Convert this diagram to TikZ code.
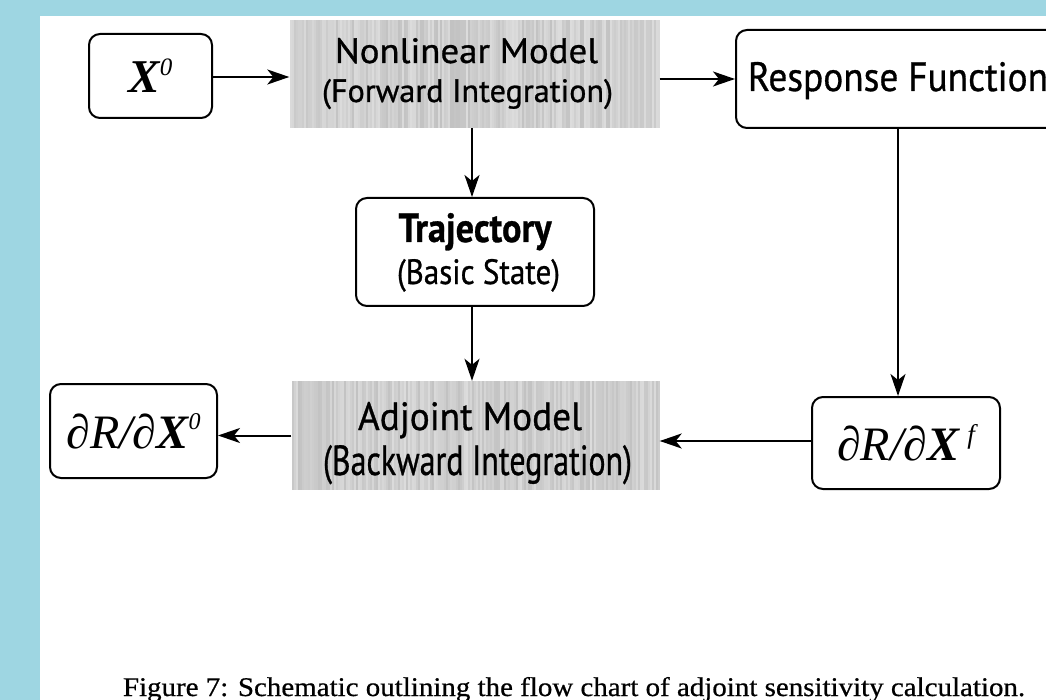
\documentclass[tikz,border=0pt]{standalone}
\usepackage{fontspec}
\usepackage{graphicx}
\usetikzlibrary{arrows.meta}
\newfontfamily\sff[FakeBold=0.8]{PT Sans}
\newfontfamily\tms{Liberation Serif}
\newfontfamily\tmscap[FakeBold=0.6]{Liberation Serif}
\definecolor{frameblue}{RGB}{158,214,226}
\definecolor{shadegray}{RGB}{205,205,205}
\newcommand\grainfill[4]{%
  \foreach \i in {#1,...,#3}{%
    \pgfmathtruncatemacro\g{random(194,220)}%
    \definecolor{grn}{RGB}{\g,\g,\g}%
    \fill[grn] ({2*\i},#2) rectangle ++(2,#4);}}
\tikzset{
  rbox/.style={draw=black, line width=2pt, rounded corners=11pt, fill=white, inner sep=0pt},
  sbox/.style={fill=shadegray, draw=none, inner sep=0pt},
  lbl/.style={anchor=base, inner sep=0pt, outer sep=0pt},
  conn/.style={line width=2pt, -{Stealth[length=22pt, width=15pt, inset=6pt]}},
}
\begin{document}
\begin{tikzpicture}[x=1pt, y=-1pt]
\pgfmathsetseed{7}
\useasboundingbox (0,0) rectangle (1046,700);
\clip (0,0) rectangle (1046,700);
\fill[frameblue] (0,0) rectangle (1046,700);
\fill[white] (40,16) rectangle (1046,700);

% boxes
\node[rbox, minimum width=123pt, minimum height=84pt] (x0) at (150.5,76)
  {\fontsize{47}{47}\selectfont\tms\bfseries\itshape X\raisebox{17pt}{\fontsize{25}{25}\selectfont\mdseries 0}};
\node[sbox, minimum width=370pt, minimum height=108pt] (nl) at (474.5,74) {};
\node[rbox, minimum width=324pt, minimum height=98pt] (rf) at (898,79) {};
\node[rbox, minimum width=238pt, minimum height=108pt] (traj) at (475,252) {};
\node[sbox, minimum width=368pt, minimum height=109pt] (adj) at (475.5,435.5) {};
\node[rbox, minimum width=167pt, minimum height=94pt] (drx0) at (133.5,431)
  {\fontsize{48}{48}\selectfont\tms\itshape ∂R/∂{\bfseries X}\raisebox{19pt}{\fontsize{24}{24}\selectfont 0}};
\node[rbox, minimum width=188pt, minimum height=92pt] (drxf) at (906,443)
  {\fontsize{48}{48}\selectfont\tms\itshape ∂R/∂{\bfseries X}\,\raisebox{17pt}{\fontsize{27}{27}\selectfont f}};

% scanned grain of the shaded boxes
\grainfill{145}{20}{329}{108}
\grainfill{146}{381}{329}{109}

% texts
\node[lbl] (tnl1) at (466.5,63) {\resizebox{263pt}{25pt}{\sff Nonlinear Model}};
\node[lbl] (tnl2) at (467.5,102) {\resizebox{291pt}{23pt}{\sff (Forward Integration)}};
\node[lbl] (trf) at (898,91) {\resizebox{300pt}{29pt}{\sff Response Function}};
\node[lbl] (ttr1) at (475,242) {\resizebox{153pt}{29pt}{\sff\bfseries Trajectory}};
\node[lbl] (ttr2) at (478.5,284) {\resizebox{163pt}{25pt}{\sff (Basic State)}};
\node[lbl] (tad1) at (470,430) {\resizebox{224pt}{28pt}{\sff Adjoint Model}};
\node[lbl] (tad2) at (477.5,475) {\resizebox{309pt}{30pt}{\sff (Backward Integration)}};
\node[lbl] (cap) at (574,696) {\resizebox{902pt}{19pt}{\tmscap Figure 7: Schematic outlining the flow chart of adjoint sensitivity calculation.}};

% connectors
\coordinate (vx) at (472,0);
\draw[conn] (x0.east |- 0,77) -- (nl.west |- 0,77);
\draw[conn] (nl.east |- rf.west) -- (rf.west);
\draw[conn] (nl.south -| vx) -- (traj.north -| vx);
\draw[conn] (traj.south -| vx) -- (adj.north -| vx);
\draw[conn] (rf.south) -- (rf.south |- drxf.north);
\draw[conn] (drxf.west |- 0,441) -- (adj.east |- 0,441);
\draw[conn] (adj.west) -- (adj.west -| drx0.east);
\end{tikzpicture}
\end{document}
